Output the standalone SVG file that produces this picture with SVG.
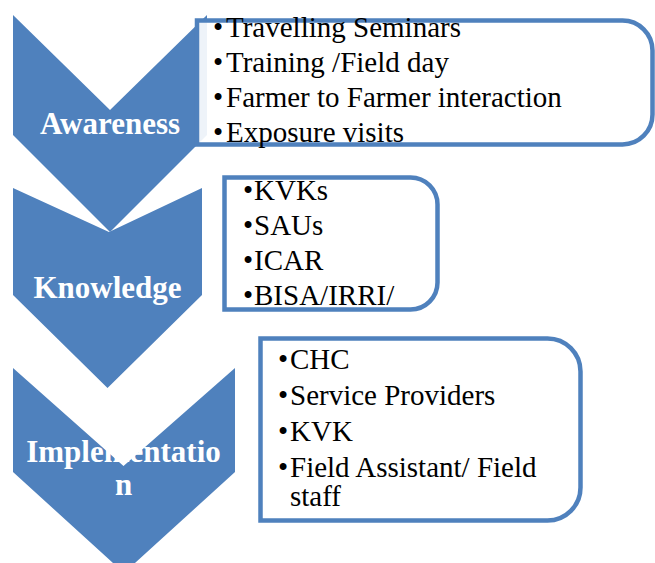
<svg xmlns="http://www.w3.org/2000/svg" width="655" height="563" viewBox="0 0 655 563">
<style>
.chev{fill:#4F81BD;}
.lbl{font-weight:bold;font-size:31px;fill:#FFFFFF;text-anchor:middle;}
.box{fill:#FFFFFF;fill-opacity:0.9;stroke:#4F81BD;stroke-width:4.5;}
.item{font-size:29px;fill:#000000;}
</style>
<rect width="655" height="563" fill="#FFFFFF"/>
<g id="connectors"/>
<g font-family="Liberation Serif, Times New Roman, DejaVu Serif, serif">
<g id="awareness">
<polygon class="chev" points="13,15 110,110 207,15 207,135 110,232 13,135"/>
<text class="lbl" x="110" y="134">Awareness</text>
</g>
<g id="knowledge">
<polygon class="chev" points="13,188 109,232 202,188 202,295 107.5,388 13,295"/>
<text class="lbl" x="107.5" y="298">Knowledge</text>
</g>
<g id="implementation">
<polygon class="chev" points="13,368 123.5,466 235,368 235,472 124,573 13,472"/>
<text class="lbl" x="123.5" y="462">Implementatio</text>
<text class="lbl" x="123.5" y="495">n</text>
</g>
<g id="box-awareness">
<path class="box" d="M197,20.5 H622.5 A30,30 0 0 1 652.5,50.5 V114.5 A30,30 0 0 1 622.5,144.5 H197 Z"/>
<text class="item" x="213" y="37">•<tspan x="226">Travelling Seminars</tspan></text>
<text class="item" x="213" y="72">•<tspan x="226">Training /Field day</tspan></text>
<text class="item" x="213" y="107">•<tspan x="226">Farmer to Farmer interaction</tspan></text>
<text class="item" x="213" y="142">•<tspan x="226">Exposure visits</tspan></text>
</g>
<g id="box-knowledge">
<path class="box" d="M224.5,177.5 H410.5 A27,27 0 0 1 437.5,204.5 V282.5 A27,27 0 0 1 410.5,309.5 H224.5 Z"/>
<text class="item" x="243" y="200">•<tspan x="254">KVKs</tspan></text>
<text class="item" x="243" y="235">•<tspan x="254">SAUs</tspan></text>
<text class="item" x="243" y="270">•<tspan x="254">ICAR</tspan></text>
<text class="item" x="243" y="305">•<tspan x="254">BISA/IRRI/</tspan></text>
</g>
<g id="box-implementation">
<path class="box" d="M260.5,338.5 H547.5 A33,33 0 0 1 580.5,371.5 V487.5 A33,33 0 0 1 547.5,520.5 H260.5 Z"/>
<text class="item" x="278" y="369">•<tspan x="290">CHC</tspan></text>
<text class="item" x="278" y="405">•<tspan x="290">Service Providers</tspan></text>
<text class="item" x="278" y="441">•<tspan x="290">KVK</tspan></text>
<text class="item" x="278" y="477">•<tspan x="290">Field Assistant/ Field</tspan></text>
<text class="item" x="290" y="506">staff</text>
</g>
</g>
</svg>
